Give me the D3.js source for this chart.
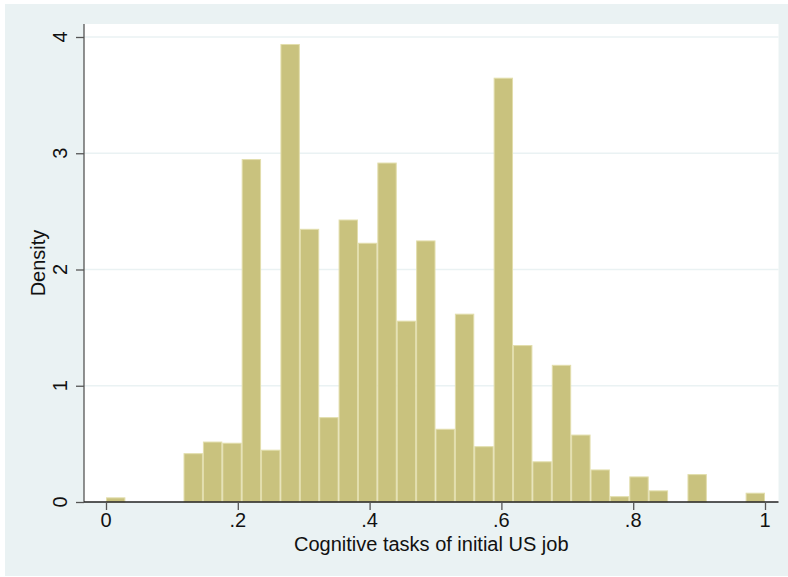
<!DOCTYPE html>
<html>
<head>
<meta charset="utf-8">
<script src="https://cdn.jsdelivr.net/npm/d3@7"></script>
<style>
  body { margin: 0; background: #fff; }
  svg { display: block; font-family: "Liberation Sans", Arial, sans-serif; }
</style>
</head>
<body>
<svg id="chart"></svg>
<script>
// DATA
const binCount = 34;
const xDomain = [0, 1];
const density = [
  0.04, 0, 0, 0, 0.42, 0.52, 0.51, 2.95, 0.45, 3.94,
  2.35, 0.73, 2.43, 2.23, 2.92, 1.56, 2.25, 0.63, 1.62, 0.48,
  3.65, 1.35, 0.35, 1.18, 0.58, 0.28, 0.05, 0.22, 0.10, 0,
  0.24, 0, 0, 0.08
];
const xTicks = [0, 0.2, 0.4, 0.6, 0.8, 1];
const xTickLabels = ["0", ".2", ".4", ".6", ".8", "1"];
const yTicks = [0, 1, 2, 3, 4];
const xTitle = "Cognitive tasks of initial US job";
const yTitle = "Density";

const width = 788;
const height = 577;

const svg = d3.select("#chart").attr("width", width).attr("height", height);

// outer background
svg.append("rect")
  .attr("x", 5).attr("y", 4)
  .attr("width", width - 5).attr("height", 572)
  .attr("fill", "#eaf2f3");

// plot region
const plot = { left: 84, right: 778.5, top: 24, bottom: 502 };
svg.append("rect")
  .attr("x", plot.left).attr("y", plot.top)
  .attr("width", plot.right - plot.left).attr("height", plot.bottom - plot.top)
  .attr("fill", "#fff");

const x = d3.scaleLinear().domain(xDomain).range([106, 765]);
const y = d3.scaleLinear().domain([0, 4]).range([502, 37]);

// gridlines
svg.append("g")
  .selectAll("line")
  .data(yTicks.filter((d) => d > 0))
  .enter()
  .append("line")
  .attr("x1", plot.left).attr("x2", plot.right)
  .attr("y1", (d) => y(d)).attr("y2", (d) => y(d))
  .attr("stroke", "#eaf2f3")
  .attr("stroke-width", 1.3);

// BARS
const binWidth = (xDomain[1] - xDomain[0]) / binCount;
svg.append("g")
  .selectAll("rect")
  .data(density.map((v, i) => ({ x0: xDomain[0] + i * binWidth, x1: xDomain[0] + (i + 1) * binWidth, v })))
  .enter()
  .filter((d) => d.v > 0)
  .append("rect")
  .attr("x", (d) => x(d.x0) + 0.5)
  .attr("width", (d) => x(d.x1) - x(d.x0) - 1)
  .attr("y", (d) => y(d.v) + 0.5)
  .attr("height", (d) => y(0) - y(d.v) - 0.5)
  .attr("fill", "#c9c27e")
  .attr("stroke", "#e2deac")
  .attr("stroke-width", 1);

// Y AXIS
const yAxis = d3.axisLeft(y).tickValues(yTicks).tickSize(8).tickFormat("");
const yG = svg.append("g").attr("transform", `translate(${plot.left},0)`).call(yAxis);
yG.select(".domain").attr("d", `M0,${plot.top}V${plot.bottom}`).attr("stroke", "#555").attr("stroke-width", 1.3);
yG.selectAll(".tick line").attr("stroke", "#555").attr("stroke-width", 1.3);

svg.append("g")
  .selectAll("text")
  .data(yTicks)
  .enter()
  .append("text")
  .attr("transform", (d) => `translate(67,${y(d)}) rotate(-90)`)
  .attr("text-anchor", "middle")
  .attr("font-size", 20)
  .attr("fill", "#111")
  .text((d) => d);

svg.append("text")
  .attr("transform", `translate(44.5,${(plot.top + plot.bottom) / 2}) rotate(-90)`)
  .attr("text-anchor", "middle")
  .attr("font-size", 20)
  .attr("fill", "#111")
  .text(yTitle);

// X AXIS
const xAxis = d3.axisBottom(x).tickValues(xTicks).tickSize(8).tickFormat("");
const xG = svg.append("g").attr("transform", `translate(0,${plot.bottom})`).call(xAxis);
xG.select(".domain").attr("d", `M${plot.left},0H${plot.right}`).attr("stroke", "#222").attr("stroke-width", 1.5);
xG.selectAll(".tick line").attr("stroke", "#555").attr("stroke-width", 1.3);

svg.append("g")
  .selectAll("text")
  .data(xTicks)
  .enter()
  .append("text")
  .attr("x", (d) => x(d))
  .attr("y", 527)
  .attr("text-anchor", "middle")
  .attr("font-size", 20)
  .attr("fill", "#111")
  .text((d, i) => xTickLabels[i]);

svg.append("text")
  .attr("x", (plot.left + plot.right) / 2)
  .attr("y", 551)
  .attr("text-anchor", "middle")
  .attr("font-size", 20)
  .attr("fill", "#111")
  .text(xTitle);
</script>
</body>
</html>
